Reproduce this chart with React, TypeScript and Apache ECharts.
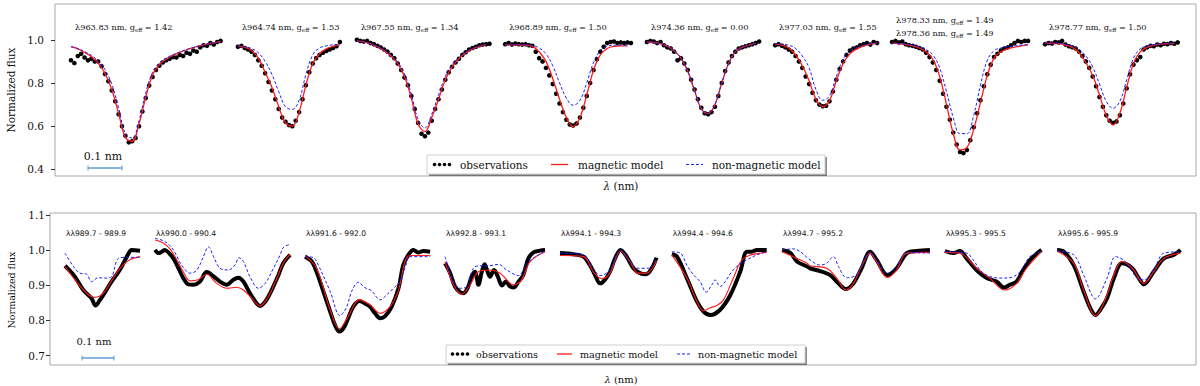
import React, { useEffect, useRef } from "react";
import * as echarts from "echarts";

// ---------- TOP PANEL DATA (display wavelength axis, nm) ----------
const TOP_LABELS: string[][] = [
  ["963.83|1.42"],
  ["964.74|1.53"],
  ["967.55|1.34"],
  ["968.89|1.50"],
  ["974.36|0.00"],
  ["977.03|1.55"],
  ["978.33|1.49", "978.36|1.49"],
  ["978.77|1.50"],
];
const TOP_STARTS = [0.047, 0.538, 0.888, 1.324, 1.741, 2.118, 2.462, 2.912];
const OBS_STEP = 0.01;
const MODEL_STEP = 0.02;
const TOP_YTICKS = [0.4, 0.6, 0.8, 1.0];

const TOP_OBS: number[][] = [
  [0.905,0.892,0.925,0.935,0.918,0.905,0.912,0.900,0.900,0.878,0.842,0.808,0.765,0.715,0.655,0.600,0.555,0.525,0.530,0.545,0.600,0.668,0.730,0.788,0.828,0.860,0.880,0.895,0.905,0.912,0.920,0.918,0.930,0.925,0.940,0.935,0.950,0.945,0.965,0.975,0.972,0.985,0.978,0.990,0.995],
  [0.968,0.972,0.962,0.955,0.945,0.930,0.905,0.880,0.845,0.805,0.765,0.725,0.680,0.640,0.620,0.605,0.600,0.625,0.665,0.725,0.790,0.850,0.890,0.915,0.930,0.940,0.948,0.955,0.962,0.970,0.990],
  [1.000,0.995,0.992,0.995,0.985,0.980,0.972,0.965,0.955,0.945,0.930,0.915,0.890,0.860,0.825,0.790,0.740,0.680,0.615,0.565,0.553,0.570,0.625,0.680,0.725,0.770,0.815,0.850,0.875,0.895,0.912,0.930,0.942,0.955,0.962,0.968,0.975,0.978,0.980,0.982],
  [0.980,0.985,0.978,0.983,0.980,0.978,0.980,0.975,0.972,0.945,0.915,0.900,0.870,0.835,0.795,0.750,0.705,0.665,0.630,0.608,0.603,0.612,0.640,0.685,0.740,0.800,0.860,0.910,0.945,0.968,0.985,0.990,0.992,0.985,0.988,0.985,0.988,0.985],
  [0.990,0.995,0.992,0.985,0.990,0.975,0.965,0.960,0.945,0.905,0.915,0.890,0.860,0.815,0.770,0.725,0.685,0.660,0.655,0.665,0.690,0.740,0.800,0.855,0.895,0.925,0.945,0.960,0.965,0.970,0.975,0.980,0.985,0.992],
  [0.975,0.980,0.972,0.965,0.955,0.945,0.925,0.900,0.870,0.830,0.795,0.755,0.720,0.700,0.692,0.695,0.715,0.760,0.815,0.865,0.900,0.930,0.950,0.960,0.965,0.975,0.980,0.985,0.978,0.990,0.985],
  [0.990,0.995,0.988,0.992,0.980,0.975,0.972,0.968,0.962,0.955,0.940,0.920,0.895,0.860,0.810,0.750,0.690,0.630,0.570,0.515,0.480,0.475,0.490,0.535,0.595,0.660,0.720,0.785,0.840,0.885,0.920,0.935,0.950,0.960,0.965,0.975,0.985,0.995,0.990,0.995,0.995],
  [0.980,0.985,0.983,0.990,0.988,0.995,0.978,0.970,0.965,0.960,0.945,0.925,0.900,0.870,0.830,0.785,0.735,0.690,0.650,0.625,0.615,0.622,0.650,0.705,0.775,0.840,0.885,0.905,0.920,0.955,0.965,0.972,0.970,0.978,0.975,0.982,0.980,0.985,0.982,0.988],
];

const TOP_MAG: number[][] = [
  [0.968,0.958,0.942,0.922,0.892,0.845,0.770,0.660,0.548,0.530,0.610,0.735,0.838,0.885,0.910,0.928,0.942,0.954,0.964,0.973,0.980,0.986,0.991],
  [0.972,0.965,0.950,0.915,0.850,0.780,0.690,0.615,0.600,0.665,0.790,0.890,0.935,0.958,0.970,0.978],
  [0.995,0.990,0.982,0.968,0.950,0.925,0.890,0.830,0.730,0.610,0.575,0.640,0.725,0.815,0.875,0.912,0.940,0.958,0.970,0.978],
  [0.977,0.977,0.976,0.975,0.970,0.945,0.900,0.820,0.725,0.640,0.598,0.640,0.745,0.860,0.930,0.960,0.970,0.972,0.972],
  [0.990,0.988,0.982,0.970,0.950,0.915,0.855,0.765,0.680,0.658,0.700,0.800,0.890,0.945,0.965,0.975,0.985],
  [0.980,0.976,0.962,0.930,0.880,0.810,0.725,0.690,0.718,0.810,0.890,0.935,0.958,0.972,0.980,0.985],
  [0.985,0.982,0.978,0.972,0.962,0.945,0.910,0.830,0.700,0.566,0.490,0.500,0.585,0.710,0.835,0.915,0.945,0.958,0.966,0.972,0.977],
  [0.985,0.984,0.982,0.976,0.965,0.940,0.895,0.835,0.745,0.650,0.606,0.660,0.780,0.890,0.945,0.965,0.975,0.980,0.982,0.984],
];

const TOP_NONMAG: number[][] = [
  [0.968,0.960,0.946,0.928,0.902,0.862,0.795,0.685,0.565,0.545,0.625,0.755,0.850,0.893,0.915,0.931,0.944,0.955,0.965,0.973,0.980,0.986,0.991],
  [0.972,0.968,0.960,0.940,0.900,0.840,0.760,0.690,0.678,0.720,0.840,0.930,0.962,0.972,0.977,0.980],
  [0.995,0.990,0.982,0.970,0.953,0.930,0.897,0.842,0.748,0.630,0.592,0.655,0.745,0.830,0.885,0.918,0.943,0.960,0.971,0.979],
  [0.977,0.977,0.977,0.977,0.974,0.962,0.935,0.880,0.800,0.730,0.697,0.720,0.800,0.895,0.950,0.970,0.975,0.975,0.975],
  [0.990,0.988,0.982,0.970,0.950,0.915,0.855,0.765,0.680,0.658,0.700,0.800,0.890,0.945,0.965,0.975,0.985],
  [0.982,0.980,0.975,0.960,0.925,0.870,0.770,0.720,0.740,0.830,0.910,0.948,0.965,0.975,0.982,0.985],
  [0.985,0.983,0.980,0.976,0.968,0.955,0.930,0.870,0.760,0.640,0.565,0.565,0.650,0.790,0.905,0.950,0.962,0.968,0.972,0.975,0.978],
  [0.985,0.985,0.984,0.980,0.972,0.955,0.925,0.875,0.795,0.715,0.683,0.715,0.815,0.915,0.958,0.972,0.978,0.981,0.983,0.985],
];

// ---------- BOTTOM PANEL DATA ([offset nm, flux]) ----------
const BOT_LABELS = ["989.7 - 989.9","990.0 - 990.4","991.6 - 992.0","992.8 - 993.1","994.1 - 994.3","994.4 - 994.6","994.7 - 995.2","995.3 - 995.5","995.6 - 995.9"];
const BOT_STARTS = [0.044, 0.309, 0.75, 1.162, 1.5, 1.829, 2.153, 2.632, 2.962];
const BOT_YTICKS = [0.7, 0.8, 0.9, 1.0, 1.1];

const BOT_OBS: number[][][] = [
  [[0,0.955],[0.029,0.924],[0.054,0.886],[0.078,0.863],[0.090,0.842],[0.101,0.855],[0.118,0.880],[0.137,0.910],[0.157,0.937],[0.172,0.962],[0.186,0.988],[0.196,1.0],[0.221,0.998]],
  [[0,1.0],[0.010,0.991],[0.020,0.995],[0.029,1.0],[0.039,0.993],[0.054,0.976],[0.069,0.948],[0.083,0.920],[0.098,0.902],[0.113,0.901],[0.132,0.910],[0.152,0.937],[0.172,0.925],[0.191,0.910],[0.211,0.901],[0.230,0.915],[0.245,0.921],[0.260,0.910],[0.279,0.877],[0.299,0.848],[0.309,0.841],[0.324,0.853],[0.343,0.886],[0.363,0.929],[0.377,0.962],[0.397,0.986]],
  [[0,0.981],[0.020,0.967],[0.034,0.938],[0.054,0.882],[0.074,0.825],[0.088,0.787],[0.101,0.768],[0.113,0.777],[0.127,0.806],[0.142,0.839],[0.160,0.855],[0.176,0.848],[0.191,0.839],[0.206,0.820],[0.221,0.806],[0.235,0.811],[0.255,0.839],[0.275,0.891],[0.289,0.957],[0.304,0.986],[0.319,1.0],[0.333,0.993],[0.348,0.997],[0.368,0.995]],
  [[0,0.962],[0.015,0.934],[0.029,0.896],[0.044,0.880],[0.054,0.877],[0.066,0.891],[0.078,0.924],[0.088,0.938],[0.098,0.901],[0.108,0.938],[0.116,0.959],[0.125,0.938],[0.132,0.924],[0.144,0.943],[0.157,0.920],[0.167,0.899],[0.179,0.910],[0.191,0.896],[0.201,0.893],[0.216,0.910],[0.230,0.929],[0.245,0.976],[0.260,0.993],[0.279,0.998],[0.294,1.0]],
  [[0,0.991],[0.039,0.988],[0.069,0.981],[0.088,0.957],[0.103,0.929],[0.118,0.905],[0.132,0.915],[0.147,0.938],[0.162,0.976],[0.178,1.0],[0.196,0.981],[0.216,0.948],[0.235,0.934],[0.253,0.931],[0.270,0.948],[0.284,0.978]],
  [[0,0.988],[0.015,0.981],[0.044,0.920],[0.074,0.853],[0.093,0.825],[0.113,0.815],[0.142,0.830],[0.172,0.872],[0.201,0.938],[0.221,0.995],[0.235,0.995],[0.250,1.0],[0.279,1.0]],
  [[0,1.0],[0.025,0.991],[0.044,0.967],[0.074,0.953],[0.082,0.948],[0.112,0.940],[0.141,0.929],[0.166,0.905],[0.188,0.889],[0.210,0.905],[0.234,0.948],[0.259,0.995],[0.278,0.972],[0.310,0.929],[0.337,0.948],[0.367,0.991],[0.396,0.997],[0.435,1.0]],
  [[0,0.997],[0.025,0.991],[0.044,0.997],[0.064,0.976],[0.093,0.943],[0.123,0.920],[0.152,0.910],[0.174,0.893],[0.191,0.901],[0.211,0.910],[0.230,0.943],[0.255,0.976],[0.284,1.0]],
  [[0,1.0],[0.020,0.995],[0.049,0.957],[0.078,0.882],[0.098,0.834],[0.113,0.815],[0.127,0.830],[0.147,0.863],[0.167,0.920],[0.191,0.962],[0.221,0.948],[0.240,0.920],[0.255,0.902],[0.284,0.938],[0.314,0.976],[0.343,0.986],[0.363,1.0]],
];

const BOT_MAG: number[][][] = [
  [[0,0.953],[0.034,0.910],[0.064,0.877],[0.088,0.865],[0.113,0.877],[0.142,0.920],[0.167,0.953],[0.191,0.972],[0.221,0.981]],
  [[0,1.028],[0.025,1.019],[0.044,1.003],[0.064,0.972],[0.083,0.938],[0.103,0.912],[0.127,0.915],[0.152,0.931],[0.181,0.905],[0.211,0.891],[0.240,0.894],[0.260,0.886],[0.284,0.863],[0.309,0.841],[0.333,0.867],[0.358,0.919],[0.377,0.962],[0.397,0.988]],
  [[0,0.984],[0.034,0.948],[0.074,0.830],[0.101,0.776],[0.127,0.811],[0.160,0.858],[0.191,0.844],[0.221,0.820],[0.250,0.839],[0.275,0.886],[0.294,0.967],[0.309,0.984],[0.368,0.984]],
  [[0,0.967],[0.025,0.901],[0.049,0.874],[0.074,0.901],[0.098,0.938],[0.132,0.943],[0.162,0.934],[0.201,0.901],[0.225,0.915],[0.250,0.967],[0.294,0.995]],
  [[0,0.984],[0.069,0.981],[0.098,0.938],[0.123,0.918],[0.147,0.934],[0.178,0.997],[0.206,0.967],[0.230,0.934],[0.255,0.934],[0.284,0.969]],
  [[0,0.986],[0.044,0.920],[0.074,0.853],[0.093,0.827],[0.113,0.836],[0.132,0.842],[0.152,0.858],[0.181,0.920],[0.211,0.976],[0.279,0.993]],
  [[0,0.995],[0.044,0.976],[0.074,0.962],[0.082,0.955],[0.131,0.948],[0.161,0.920],[0.188,0.886],[0.210,0.905],[0.234,0.953],[0.259,0.991],[0.278,0.967],[0.310,0.921],[0.337,0.943],[0.367,0.991],[0.435,0.993]],
  [[0,0.993],[0.044,0.991],[0.093,0.948],[0.132,0.920],[0.176,0.886],[0.211,0.905],[0.240,0.948],[0.284,0.995]],
  [[0,0.997],[0.049,0.962],[0.078,0.886],[0.113,0.813],[0.147,0.872],[0.167,0.929],[0.191,0.967],[0.221,0.948],[0.255,0.905],[0.284,0.938],[0.314,0.976],[0.363,0.991]],
];

const BOT_NONMAG: number[][][] = [
  [[0,0.991],[0.025,0.953],[0.044,0.934],[0.064,0.931],[0.078,0.910],[0.098,0.921],[0.118,0.920],[0.137,0.924],[0.157,0.976],[0.181,0.979],[0.221,0.979]],
  [[0,1.033],[0.029,1.024],[0.054,1.0],[0.078,0.957],[0.103,0.934],[0.123,0.943],[0.142,0.981],[0.157,1.009],[0.172,0.981],[0.191,0.948],[0.216,0.943],[0.235,0.957],[0.247,0.978],[0.260,0.967],[0.279,0.924],[0.304,0.891],[0.324,0.905],[0.343,0.938],[0.368,0.986],[0.377,1.007],[0.397,1.016]],
  [[0,0.981],[0.025,0.978],[0.039,0.957],[0.074,0.882],[0.103,0.813],[0.123,0.839],[0.137,0.882],[0.157,0.908],[0.176,0.893],[0.196,0.884],[0.221,0.858],[0.240,0.872],[0.260,0.891],[0.279,0.910],[0.294,0.948],[0.309,0.981],[0.368,0.981]],
  [[0,0.981],[0.025,0.910],[0.044,0.891],[0.064,0.896],[0.083,0.948],[0.103,0.955],[0.127,0.955],[0.157,0.959],[0.181,0.943],[0.216,0.927],[0.240,0.962],[0.294,0.997]],
  [[0,0.991],[0.069,0.986],[0.098,0.948],[0.118,0.927],[0.147,0.943],[0.178,1.0],[0.206,0.967],[0.230,0.948],[0.260,0.948],[0.284,0.976]],
  [[0,0.995],[0.025,0.991],[0.044,0.957],[0.064,0.929],[0.083,0.910],[0.101,0.880],[0.118,0.901],[0.127,0.915],[0.142,0.896],[0.157,0.910],[0.176,0.938],[0.196,0.957],[0.221,0.972],[0.250,0.986],[0.279,0.995]],
  [[0,1.0],[0.034,1.003],[0.054,0.995],[0.082,0.972],[0.112,0.957],[0.131,0.962],[0.151,0.981],[0.166,0.953],[0.190,0.921],[0.219,0.929],[0.244,0.976],[0.259,0.993],[0.278,0.972],[0.310,0.934],[0.337,0.953],[0.367,0.993],[0.435,0.991]],
  [[0,0.995],[0.064,0.991],[0.083,0.972],[0.113,0.934],[0.162,0.920],[0.191,0.921],[0.221,0.938],[0.250,0.981],[0.284,0.995]],
  [[0,0.997],[0.049,0.986],[0.078,0.929],[0.113,0.861],[0.147,0.920],[0.172,0.981],[0.201,0.967],[0.235,0.920],[0.255,0.915],[0.284,0.943],[0.314,0.991],[0.363,0.995]],
];

const SERIF = "DejaVu Serif";
const SANS = "DejaVu Sans";
const RED = "#ff1a1a";
const BLUE = "#1f1fff";
const BAR = "#5b9bd5";

function buildOption() {
  const series: any[] = [];
  TOP_STARTS.forEach((s0, i) => {
    series.push({
      type: "scatter", xAxisIndex: 0, yAxisIndex: 0, name: "observations",
      symbolSize: 4.6, itemStyle: { color: "#000", opacity: 1 }, silent: true, z: 2,
      data: TOP_OBS[i].map((f, k) => [s0 + k * OBS_STEP, f]),
    });
    series.push({
      type: "line", xAxisIndex: 0, yAxisIndex: 0, name: "magnetic model", smooth: 0.4,
      showSymbol: false, lineStyle: { color: RED, width: 1.3 }, silent: true, z: 3,
      data: TOP_MAG[i].map((f, k) => [s0 + k * MODEL_STEP, f]),
    });
    series.push({
      type: "line", xAxisIndex: 0, yAxisIndex: 0, name: "non-magnetic model", smooth: 0.4,
      showSymbol: false, lineStyle: { color: BLUE, width: 1, type: [3, 2] }, silent: true, z: 4,
      data: TOP_NONMAG[i].map((f, k) => [s0 + k * MODEL_STEP, f]),
    });
  });
  BOT_STARTS.forEach((s0, i) => {
    series.push({
      type: "line", xAxisIndex: 1, yAxisIndex: 1, name: "observations", smooth: 0.35,
      showSymbol: false, lineStyle: { color: "#000", width: 4 }, silent: true, z: 2,
      data: BOT_OBS[i].map(([d, f]) => [s0 + d, f]),
    });
    series.push({
      type: "line", xAxisIndex: 1, yAxisIndex: 1, name: "magnetic model", smooth: 0.35,
      showSymbol: false, lineStyle: { color: RED, width: 1.1 }, silent: true, z: 3,
      data: BOT_MAG[i].map(([d, f]) => [s0 + d, f]),
    });
    series.push({
      type: "line", xAxisIndex: 1, yAxisIndex: 1, name: "non-magnetic model", smooth: 0.35,
      showSymbol: false, lineStyle: { color: BLUE, width: 1, type: [3, 2] }, silent: true, z: 4,
      data: BOT_NONMAG[i].map(([d, f]) => [s0 + d, f]),
    });
  });

  const g: any[] = [];
  const txt = (x: number, y: number, text: string, fontSize: number, extra: any = {}) => ({
    type: "text", x, y, silent: true,
    style: { text, fontFamily: SERIF, fontSize, fill: "#111", verticalAlign: "middle", align: "left", ...extra },
  });

  // top segment labels
  TOP_LABELS.forEach((lines, i) => {
    const x = (TOP_STARTS[i] * 340) + 55 + 4;
    lines.forEach((ln, j) => {
      const [wl, ge] = ln.split("|");
      const y = lines.length === 1 ? 27 : 20 + j * 12.5;
      g.push({
        type: "text", x, y, silent: true,
        style: {
          text: `{a|λ${wl} nm, g}{s|eff}{a| = ${ge}}`,
          verticalAlign: "middle",
          rich: {
            a: { fontFamily: SERIF, fontSize: 8.2, fill: "#111", lineHeight: 12, verticalAlign: "middle" },
            s: { fontFamily: SERIF, fontSize: 5.6, fill: "#111", lineHeight: 6, verticalAlign: "bottom" },
          },
        },
      });
    });
  });
  // bottom labels
  BOT_LABELS.forEach((lb, i) => {
    const x = BOT_STARTS[i] * 340 + 50 + 1;
    g.push(txt(x, 233, `λλ${lb}`, 7.6, { fontFamily: SANS }));
  });

  // y titles
  g.push({ type: "text", x: 11, y: 90, rotation: Math.PI / 2, silent: true,
    style: { text: "Normalized flux", fontFamily: SERIF, fontSize: 10.5, fill: "#111", align: "center", verticalAlign: "middle" } });
  g.push({ type: "text", x: 11, y: 290, rotation: Math.PI / 2, silent: true,
    style: { text: "Normalized flux", fontFamily: SERIF, fontSize: 9.5, fill: "#111", align: "center", verticalAlign: "middle" } });

  // x titles
  const xt = (x: number, y: number, fs: number) => ({
    type: "text", x, y, silent: true,
    style: {
      text: "{i|λ}{n| (nm)}", align: "center", verticalAlign: "middle",
      rich: {
        i: { fontFamily: SERIF, fontStyle: "italic", fontSize: fs, fill: "#111" },
        n: { fontFamily: SERIF, fontSize: fs, fill: "#111" },
      },
    },
  });
  g.push(xt(621, 186, 10.5));
  g.push(xt(621, 379, 10));

  // scale bars
  const bar = (x1: number, x2: number, y: number, tx: number, ty: number, fs: number) => {
    g.push({ type: "line", silent: true, shape: { x1, y1: y, x2, y2: y }, style: { stroke: BAR, lineWidth: 1.5 } });
    g.push({ type: "line", silent: true, shape: { x1, y1: y - 2.5, x2: x1, y2: y + 2.5 }, style: { stroke: BAR, lineWidth: 1 } });
    g.push({ type: "line", silent: true, shape: { x1: x2, y1: y - 2.5, x2, y2: y + 2.5 }, style: { stroke: BAR, lineWidth: 1 } });
    g.push(txt(tx, ty, "0.1 nm", fs, { align: "center" }));
  };
  bar(88, 122, 168, 103, 156, 11);
  bar(82, 114, 358, 94, 341, 10);

  // legends
  const legend = (bx: number, by: number, bw: number, bh: number, fs: number,
    dots: number[], tObs: number, red: number[], tMag: number, blue: number[], tNon: number) => {
    const cy = by + bh / 2;
    g.push({ type: "rect", silent: true, shape: { x: bx + 2, y: by + 2, width: bw, height: bh }, style: { fill: "rgba(0,0,0,0.45)" } });
    g.push({ type: "rect", silent: true, shape: { x: bx, y: by, width: bw, height: bh }, style: { fill: "#fff", stroke: "#d0d0d0", lineWidth: 1 } });
    dots.forEach((dx) => g.push({ type: "circle", silent: true, shape: { cx: dx, cy, r: 1.8 }, style: { fill: "#000" } }));
    g.push(txt(tObs, cy, "observations", fs));
    g.push({ type: "line", silent: true, shape: { x1: red[0], y1: cy, x2: red[1], y2: cy }, style: { stroke: RED, lineWidth: 1.3 } });
    g.push(txt(tMag, cy, "magnetic model", fs));
    g.push({ type: "line", silent: true, shape: { x1: blue[0], y1: cy, x2: blue[1], y2: cy }, style: { stroke: BLUE, lineWidth: 1, lineDash: [3, 2] } });
    g.push(txt(tNon, cy, "non-magnetic model", fs));
  };
  legend(427, 155, 398, 19, 10.5, [434.5, 439.5, 444.5, 449.5], 460, [551, 568], 578, [686, 703], 712);
  legend(446, 345, 359, 18, 9.6, [452.5, 457.5, 462.5, 467.5], 476, [557, 572], 580, [677, 690], 698);

  const yAxisBase = (gridIndex: number, min: number, max: number, ticks: number[], fs: number, margin: number) => ({
    type: "value", gridIndex, min, max,
    axisLine: { show: false }, splitLine: { show: false },
    axisTick: { show: true, length: 4, inside: false, customValues: ticks, lineStyle: { color: "#333", width: 1 } },
    axisLabel: { customValues: ticks, formatter: (v: number) => v.toFixed(1), fontFamily: SERIF, fontSize: fs, color: "#111", margin },
  });

  return {
    animation: false,
    backgroundColor: "#fff",
    grid: [
      { left: 55, top: 4, width: 1141, height: 172, show: true, borderColor: "#a8a8a8", borderWidth: 1, backgroundColor: "transparent" },
      { left: 50, top: 213, width: 1146, height: 152, show: true, borderColor: "#a8a8a8", borderWidth: 1, backgroundColor: "transparent" },
    ],
    xAxis: [
      { type: "value", gridIndex: 0, min: 0, max: 1141 / 340, show: false },
      { type: "value", gridIndex: 1, min: 0, max: 1146 / 340, show: false },
    ],
    yAxis: [
      yAxisBase(0, 0.369, 1.166, TOP_YTICKS, 10.5, 11),
      yAxisBase(1, 0.673, 1.105, BOT_YTICKS, 10.5, 5),
    ],
    series,
    graphic: g,
  };
}

export default function App() {
  const ref = useRef<HTMLDivElement>(null);
  useEffect(() => {
    if (!ref.current) return;
    const chart = echarts.init(ref.current, undefined, { renderer: "svg" });
    chart.setOption(buildOption() as any);
    return () => chart.dispose();
  }, []);
  return <div ref={ref} style={{ position: "fixed", left: 0, top: 0, width: 1200, height: 386, background: "#fff" }} />;
}
